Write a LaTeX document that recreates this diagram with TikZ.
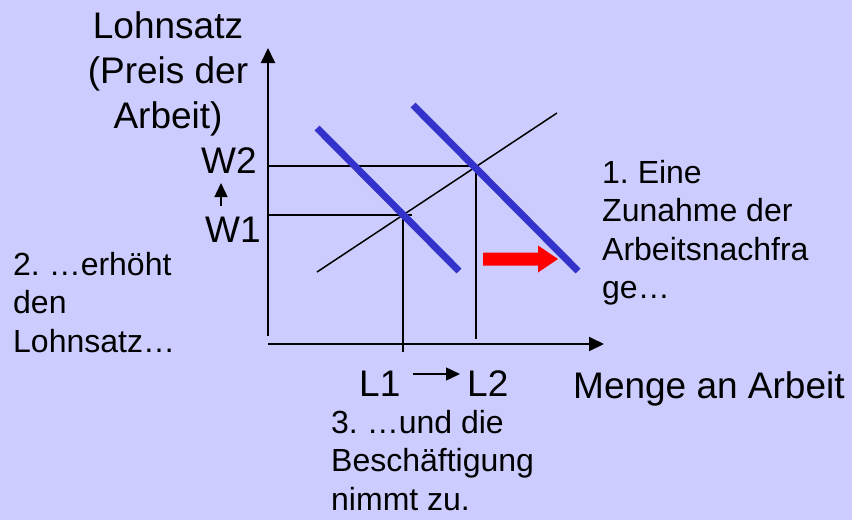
\documentclass[tikz,border=0pt]{standalone}
\usepackage{fontspec}
\setmainfont{Liberation Sans}
\usetikzlibrary{arrows.meta}
\definecolor{bgcol}{HTML}{CCCCFF}
\definecolor{dblue}{HTML}{3333CC}
\definecolor{redarrow}{HTML}{FF0000}
\newcommand\bigtxt{\fontsize{37}{45}\selectfont}
\newcommand\smalltxt{\fontsize{32}{38.5}\selectfont}
\frenchspacing
\begin{document}
\begin{tikzpicture}[x=1pt,y=-1pt,
  axis/.style={line width=2pt,-{Triangle[length=15pt,width=14pt]}},
  guide/.style={line width=1.5pt},
  supply/.style={line width=1.5pt},
  demand/.style={line width=7pt,color=dblue},
  smallarrow/.style={line width=1.5pt,-{Triangle[length=14pt,width=13pt]}},
  bigl/.style={font=\bigtxt,inner sep=0pt},
  smalll/.style={font=\smalltxt,inner sep=0pt}]
\fill[bgcol] (0,0) rectangle (852,520);
\useasboundingbox (0,0) rectangle (852,520);

% axes
\coordinate (ybot) at (268,336);
\coordinate (ytop) at (268,48);
\coordinate (O) at (268,344);
\coordinate (xend) at (604,344);
\draw[axis] (ybot) -- (ytop);
\draw[axis] (O) -- (xend);

% equilibrium guides
\coordinate (w1l) at (268,215);
\coordinate (w1r) at (412,215);
\coordinate (w2l) at (268,166);
\coordinate (w2r) at (476,166);
\coordinate (E1) at (403,215);
\coordinate (E2) at (476,166);
\coordinate (l1b) at (403,352);
\coordinate (l2b) at (476,339);
\draw[guide] (w2l) -- (w2r);
\draw[guide] (w1l) -- (w1r);
\draw[guide] (E1) -- (l1b);
\draw[guide] (E2) -- (l2b);

% supply curve
\coordinate (s1) at (317,272);
\coordinate (s2) at (557,113);
\draw[supply] (s1) -- (s2);

% demand curves
\coordinate (d1a) at (317,128);
\coordinate (d1b) at (459,271);
\coordinate (d2a) at (413,105);
\coordinate (d2b) at (578,271);
\draw[demand] (d1a) -- (d1b);
\draw[demand] (d2a) -- (d2b);

% red shift arrow
\fill[redarrow] (483,252.5) -- (538,252.5) -- (538,245.5) -- (558,259)
  -- (538,272.5) -- (538,265.5) -- (483,265.5) -- cycle;

% labels
\node[bigl,anchor=base] (ylab) at (168,38)
  {\begin{tabular}[t]{@{}c@{}}Lohnsatz\\(Preis der\\Arbeit)\end{tabular}};
\node[bigl,anchor=base west] (W2) at (201,173) {W2};
\node[bigl,anchor=base west] (W1) at (205,242) {W1};
\coordinate (wa) at (221,206);
\coordinate (wb) at (221,183);
\draw[smallarrow] (wa) -- (wb);

\node[bigl,anchor=base west] (L1) at (359,396) {L1};
\node[bigl,anchor=base west] (L2) at (467,396) {L2};
\coordinate (la) at (413,374);
\coordinate (lb) at (460,374);
\draw[smallarrow] (la) -- (lb);

\node[bigl,anchor=base west] (xlab) at (573,398) {Menge an Arbeit};

\node[smalll,anchor=base west] (t1) at (602,183)
  {\begin{tabular}[t]{@{}l@{}}1. Eine\\Zunahme der\\Arbeitsnachfra\\ge…\end{tabular}};
\node[smalll,anchor=base west] (t2) at (13,275)
  {\begin{tabular}[t]{@{}l@{}}2. …erhöht\\den\\Lohnsatz…\end{tabular}};
\node[smalll,anchor=base west] (t3) at (331,433)
  {\begin{tabular}[t]{@{}l@{}}3. …und die\\Beschäftigung\\nimmt zu.\end{tabular}};
\end{tikzpicture}
\end{document}
